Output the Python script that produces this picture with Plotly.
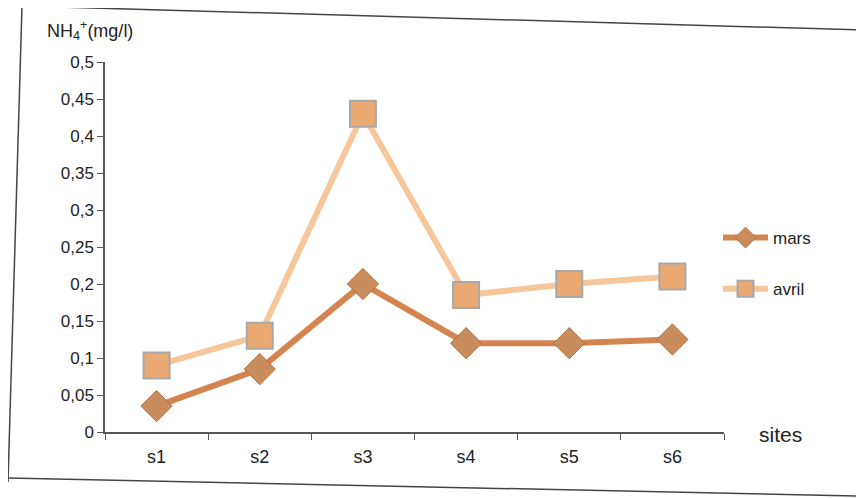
import plotly.graph_objects as go

sites = ["s1", "s2", "s3", "s4", "s5", "s6"]
mars = [0.035, 0.085, 0.2, 0.12, 0.12, 0.125]
avril = [0.09, 0.13, 0.43, 0.185, 0.2, 0.21]
y_ticks = [0, 0.05, 0.1, 0.15, 0.2, 0.25, 0.3, 0.35, 0.4, 0.45, 0.5]
y_ticktext = ["0", "0,05", "0,1", "0,15", "0,2", "0,25", "0,3", "0,35", "0,4", "0,45", "0,5"]

OFF = 8  # page body margin
W, H = 864 - OFF, 498 - OFF
L, T = 105 - OFF, 62 - OFF
R = W - (724 - OFF)
B = H - (432 - OFF)
PW, PH = W - L - R, H - T - B


def px(x):
    return (x - OFF - L) / PW


def py(y):
    return (H - B - (y - OFF)) / PH


FONT = "Liberation Sans"

fig = go.Figure()
fig.add_trace(go.Scatter(
    x=sites, y=avril, name="avril", mode="lines+markers", legendgroup="a", legendrank=2,
    line=dict(color="#f7c79c", width=6),
    marker=dict(symbol="square", size=26, color="#eaa872",
                line=dict(color="#a8a8a8", width=2)),
))
fig.add_trace(go.Scatter(
    x=sites, y=mars, name="mars", mode="lines+markers", legendgroup="m", legendrank=1,
    line=dict(color="#d3844f", width=6),
    marker=dict(symbol="diamond", size=24, color="#c98c5c",
                line=dict(color="#b07040", width=1)),
))

frame = [((22, 6), (864, 30)), ((22, 6), (8, 482)), ((8, 478), (857, 496)), ((862, 120), (857, 497))]
shapes = []
for (x0, y0), (x1, y1) in frame:
    shapes.append(dict(type="line", xref="paper", yref="paper",
                       x0=px(x0), y0=py(y0), x1=px(x1), y1=py(y1),
                       line=dict(color="#444", width=1.5)))

fig.update_layout(
    width=W, height=H,
    margin=dict(l=L, r=R, t=T, b=B),
    paper_bgcolor="white", plot_bgcolor="white",
    font=dict(family=FONT, size=17, color="#222"),
    showlegend=True,
    legend=dict(x=px(718), y=py(220), xanchor="left", yanchor="top",
                traceorder="grouped", font=dict(size=17),
                itemwidth=45, tracegroupgap=26, bgcolor="rgba(0,0,0,0)"),
    xaxis=dict(type="category", range=[-0.5, 5.5], showgrid=False,
               showline=True, linecolor="#555", linewidth=1.5,
               ticks="outside", tickson="boundaries", ticklen=6, tickcolor="#555",
               ticklabelstandoff=8, tickfont=dict(size=18)),
    yaxis=dict(range=[0, 0.5], tickvals=y_ticks, ticktext=y_ticktext, showgrid=False,
               showline=True, linecolor="#555", linewidth=1.5,
               ticks="outside", ticklen=6, tickcolor="#555", tickfont=dict(size=17),
               zeroline=False),
    shapes=shapes,
    annotations=[
        dict(text="NH<sub>4</sub><sup>+</sup>(mg/l)", xref="paper", yref="paper",
             x=px(45), y=py(30), xanchor="left", yanchor="middle",
             showarrow=False, font=dict(size=18)),
        dict(text="sites", xref="paper", yref="paper",
             x=px(780), y=py(435), xanchor="center", yanchor="middle",
             showarrow=False, font=dict(size=21)),
    ],
)

fig.write_html("out.html")
